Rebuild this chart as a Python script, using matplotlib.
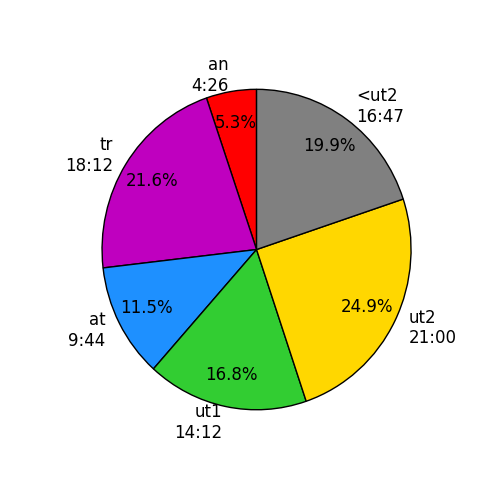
import matplotlib.pyplot as plt

#%%数据
Names = ['an', 'tr', 'at', 'ut1', 'ut2', '<ut2']
Times = ['4:26', '18:12', '9:44', '14:12', '21:00', '16:47']
Colors = ['red', 'm', 'dodgerblue', 'limegreen', 'gold', 'gray']

#%%换算成秒
Seconds = []
for t in Times:
    m, s = t.split(':')
    Seconds.append(int(m) * 60 + int(s))
Labels = [n + '\n' + t for n, t in zip(Names, Times)]

#%%饼图
plt.figure(figsize=(5, 5), dpi=100)
ax = plt.subplot(1, 1, 1)
plt.pie(Seconds,
        labels=Labels,
        colors=Colors,
        autopct='%1.1f%%',
        startangle=90,
        pctdistance=0.8,
        labeldistance=1.1,
        wedgeprops={'edgecolor': 'k', 'linewidth': 1},
        textprops={'fontsize': 12})
ax.set_aspect('auto')
ax.set_xlim(-1.256, 1.252)
ax.set_ylim(-1.22, 1.183)
plt.savefig('out.png')
